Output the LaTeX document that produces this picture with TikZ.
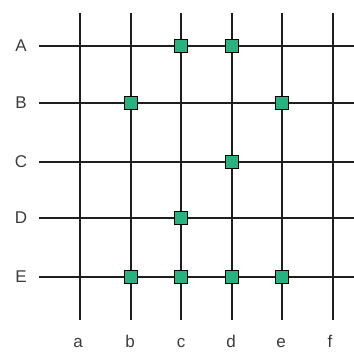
\documentclass[tikz,border=0pt]{standalone}
\usepackage{fontspec}
\setmainfont{Liberation Sans}
\definecolor{gridline}{RGB}{30,30,30}
\definecolor{dotfill}{RGB}{40,178,128}
\definecolor{labeltext}{RGB}{60,60,60}
\begin{document}
\begin{tikzpicture}[x=1pt,y=-1pt,
  gridrule/.style={draw=gridline,line width=2pt},
  dotbox/.style={draw=black,line width=1pt,fill=dotfill,minimum size=12.5pt,inner sep=0pt},
  lbl/.style={text=labeltext,font=\fontsize{17}{19}\selectfont,inner sep=0pt}]
\useasboundingbox (0,0) rectangle (354,353);
% column coordinates
\foreach \n/\x in {a/80,b/131,c/181,d/232,e/282,f/333}{
  \coordinate (\n top) at (\x,13);
  \coordinate (\n bot) at (\x,320);
  \draw[gridrule] (\n top) -- (\n bot);
}
\foreach \n/\y in {A/46,B/103,C/162,D/218,E/277}{
  \coordinate (\n left) at (39,\y);
  \coordinate (\n right) at (354,\y);
  \draw[gridrule] (\n left) -- (\n right);
  \node[lbl] (\n lab) at (21,\y) {\n};
}
\foreach \n/\x in {a/78,b/130,c/181,d/231,e/281,f/330}{
  \node[lbl,anchor=base] (\n lab) at (\x,347) {\n};
}
% dots
\foreach \r/\c [count=\i] in {A/c,A/d,B/b,B/e,C/d,D/c,E/b,E/c,E/d,E/e}{
  \path (\c top |- \r left) node[dotbox] (dot\i) {};
}
\end{tikzpicture}
\end{document}
